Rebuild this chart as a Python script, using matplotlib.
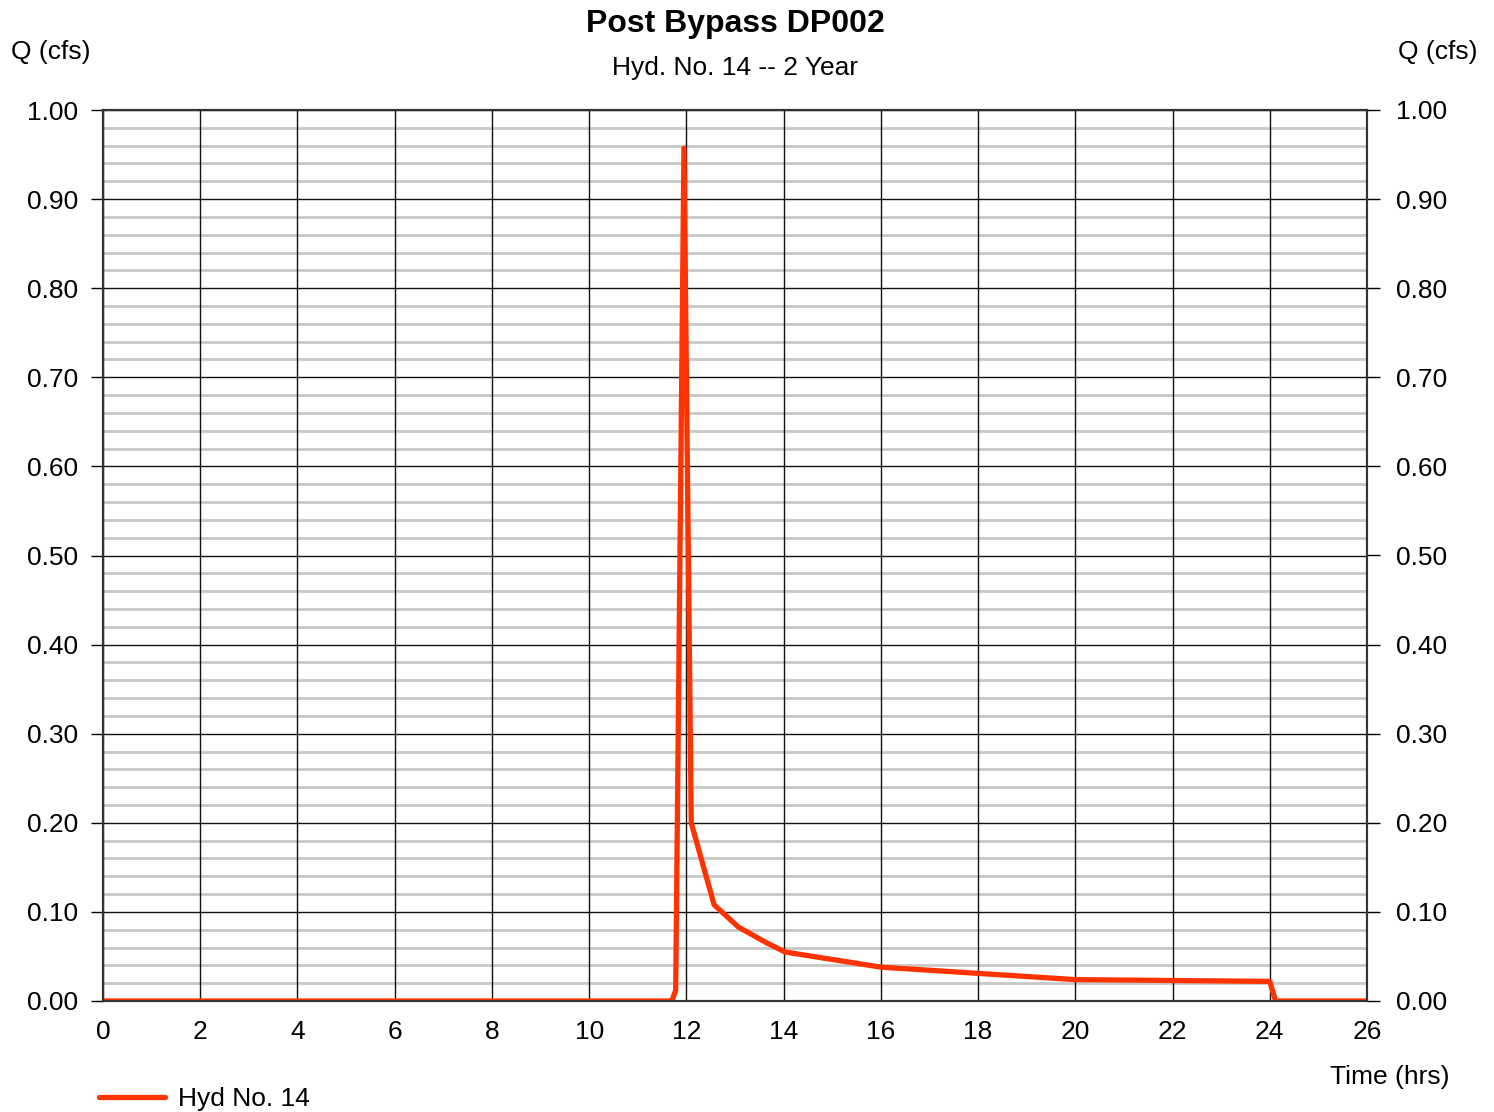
import matplotlib
matplotlib.use("Agg")
import matplotlib.pyplot as plt
from matplotlib.ticker import MultipleLocator

plt.rcParams['font.family'] = ['Liberation Sans', 'DejaVu Sans']

time_hrs = [0.0, 11.7, 11.78, 11.95, 12.1, 12.57, 13.07, 13.66, 14.03, 16.0, 18.0, 20.0, 22.0, 24.0, 24.12, 26.0]
flow_cfs = [0.0, 0.0, 0.012, 0.957, 0.200, 0.108, 0.083, 0.065, 0.055, 0.038, 0.031, 0.024, 0.023, 0.022, 0.0, 0.0]

title = "Post Bypass DP002"
subtitle = "Hyd. No. 14 -- 2 Year"
series_label = "Hyd No. 14"
x_ticks = list(range(0, 27, 2))
y_ticks = [i / 10 for i in range(0, 11)]

W, H = 1494, 1112
fig = plt.figure(figsize=(W / 100, H / 100), dpi=100)
ax = fig.add_axes([103 / W, 1 - 1001 / H, (1367 - 103) / W, (1001 - 110) / H])

ax.set_xlim(0, 26)
ax.set_ylim(0, 1.0)
ax.set_xticks(x_ticks)
ax.set_yticks(y_ticks)
ax.set_yticklabels([f"{v:.2f}" for v in y_ticks])
ax.yaxis.set_minor_locator(MultipleLocator(0.02))
ax.set_axisbelow(True)

# light minor grid below, dark major grid drawn on top of it
ax.grid(which='minor', axis='y', color='#c8c8c8', linewidth=2.0)
ax.vlines(x_ticks, 0, 1, colors='#111111', linewidth=1.0, zorder=1.5)
ax.hlines(y_ticks, 0, 26, colors='#111111', linewidth=1.0, zorder=1.5)

fs = 19
ax.tick_params(axis='x', which='both', length=0, pad=14, labelsize=fs)
ax.tick_params(axis='y', which='major', length=9, width=1, pad=9, labelsize=fs, direction='out')
ax.tick_params(axis='y', which='minor', length=0)

ax2 = ax.twinx()
ax2.set_ylim(0, 1.0)
ax2.set_yticks(y_ticks)
ax2.set_yticklabels([f"{v:.2f}" for v in y_ticks])
ax2.tick_params(axis='y', length=9, width=1, pad=12, labelsize=fs, direction='out')

for a in (ax, ax2):
    for s in a.spines.values():
        s.set_color('#333333')
        s.set_linewidth(1.5)

ax.plot(time_hrs, flow_cfs, color='#ff3300', linewidth=3.8, zorder=5,
        solid_joinstyle='round', solid_capstyle='butt', label=series_label)

fig.text(735 / W, 1 - 24 / H, title, ha='center', va='center', fontsize=23, fontweight='bold')
fig.text(735 / W, 1 - 68 / H, subtitle, ha='center', va='center', fontsize=fs)
fig.text(11 / W, 1 - 52 / H, "Q (cfs)", ha='left', va='center', fontsize=fs)
fig.text(1477 / W, 1 - 52 / H, "Q (cfs)", ha='right', va='center', fontsize=fs)
fig.text(1450 / W, 1 - 1077 / H, "Time (hrs)", ha='right', va='center', fontsize=fs)

leg = fig.legend(loc='center left', bbox_to_anchor=(99 / W, 1 - 1099 / H), frameon=False,
                 fontsize=fs, handlelength=2.5, handletextpad=0.5, borderaxespad=0, borderpad=0)
for ln in leg.get_lines():
    ln.set_solid_capstyle('round')

fig.savefig("out.png", dpi=100)
